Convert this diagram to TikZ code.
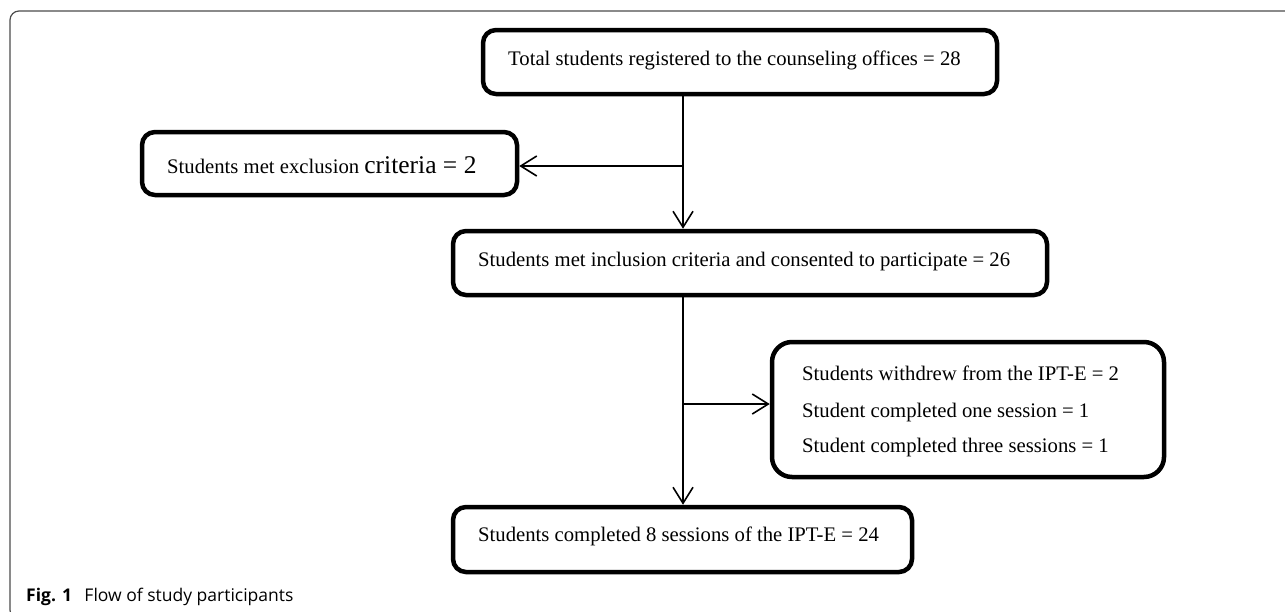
\documentclass[tikz,border=0pt]{standalone}
\usepackage{fontspec}
\setmainfont{Liberation Serif}
\newfontfamily\capfont{Open Sans}
\usetikzlibrary{arrows.meta}
\begin{document}
\begin{tikzpicture}[x=1pt,y=-1pt,
  box/.style={draw=black, line width=4.5pt, rounded corners=13pt, inner sep=0pt, fill=white},
  txt/.style={anchor=base west, inner sep=0pt, font=\fontsize{20.7}{24}\selectfont},
  conn/.style={draw=black, line width=1.6pt},
  arr/.style={conn, -{Straight Barb[length=16pt,width=20pt,line width=1.6pt]}},
  frame/.style={draw=black!70, line width=1.2pt, rounded corners=9pt}]
\useasboundingbox (0,0) rectangle (1285,611);
\begin{scope}
\clip (0,0) rectangle (1285,611);
\path[frame] (10,11) rectangle (1310,619);
\end{scope}
% boxes
\node[box, minimum width=514pt, minimum height=64pt] (b1) at (740,62) {};
\node[box, minimum width=375pt, minimum height=63pt] (ex) at (329.5,163.5) {};
\node[box, minimum width=594pt, minimum height=64pt] (b3) at (750,263) {};
\node[box, minimum width=392pt, minimum height=135pt, rounded corners=20pt] (b4) at (968,409.5) {};
\node[box, minimum width=459pt, minimum height=65pt] (b5) at (682.5,539.5) {};
% texts
\node[txt] (t1) at (508,65) {Total students registered to the counseling offices = 28};
\node[txt] (t2) at (167,173) {Students met exclusion {\fontsize{25.5}{28}\selectfont criteria = 2}};
\node[txt] (t3) at (478,266) {Students met inclusion criteria and consented to participate = 26};
\node[txt] (t4a) at (802,380) {Students withdrew from the IPT-E = 2};
\node[txt] (t4b) at (802,417) {Student completed one session = 1};
\node[txt] (t4c) at (802,452) {Student completed three sessions = 1};
\node[txt] (t5) at (478,541) {Students completed 8 sessions of the IPT-E = 24};
% connectors
\coordinate (v1) at (683,166);
\coordinate (v2) at (683,404);
\draw[arr] (v1 |- b1.south) -- (v1 |- b3.north);
\draw[arr] (v1) -- (v1 -| ex.east);
\draw[arr] (v2 |- b3.south) -- (v2 |- b5.north);
\draw[arr] (v2) -- (v2 -| b4.west);
% caption
\node[anchor=base west, inner sep=0pt, font=\capfont\fontsize{17.5}{20}\selectfont] (cap) at (26,601) {\textbf{Fig. 1}\hspace{0.45em} Flow of study participants};
\end{tikzpicture}
\end{document}
